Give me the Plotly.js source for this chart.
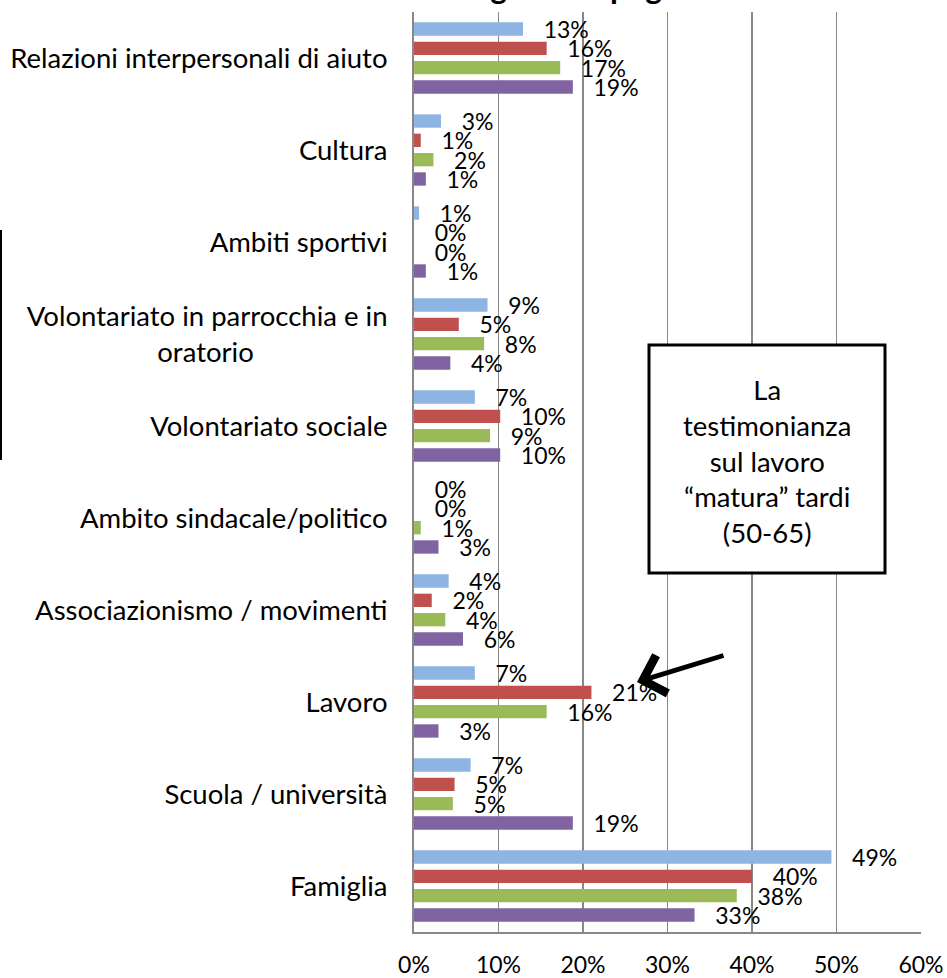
<!DOCTYPE html>
<html><head><meta charset="utf-8">
<script src="https://cdn.plot.ly/plotly-3.0.1.min.js"></script>
<style>html,body{margin:0;padding:0;background:#fff;}#chart{width:947px;height:978px;}</style>
</head><body><div id="chart"></div>
<script>
// ---- data ----
const categories = [
  "Relazioni interpersonali di aiuto",
  "Cultura",
  "Ambiti sportivi",
  "Volontariato in parrocchia e in oratorio",
  "Volontariato sociale",
  "Ambito sindacale/politico",
  "Associazionismo / movimenti",
  "Lavoro",
  "Scuola / università",
  "Famiglia"
];
const categoryLabels = [
  "Relazioni interpersonali di aiuto",
  "Cultura",
  "Ambiti sportivi",
  "Volontariato in parrocchia e in<br>oratorio",
  "Volontariato sociale",
  "Ambito sindacale/politico",
  "Associazionismo / movimenti",
  "Lavoro",
  "Scuola / università",
  "Famiglia"
];
const seriesNames = ["Serie 1", "50-65", "Serie 3", "Serie 4"];
const serieBlue   = [0.129, 0.032, 0.006, 0.087, 0.072, 0.000, 0.041, 0.072, 0.067, 0.494];
const serieRed    = [0.157, 0.008, 0.000, 0.053, 0.102, 0.000, 0.021, 0.210, 0.048, 0.400];
const serieGreen  = [0.173, 0.023, 0.000, 0.083, 0.090, 0.008, 0.037, 0.157, 0.046, 0.382];
const seriePurple = [0.188, 0.014, 0.014, 0.043, 0.102, 0.029, 0.058, 0.029, 0.188, 0.332];
const xTickVals = [0, 0.1, 0.2, 0.3, 0.4, 0.5, 0.6];
const xTickText = ["0%", "10%", "20%", "30%", "40%", "50%", "60%"];
const titleText = "Luoghi di impegno";
const boxText = "La<br>testimonianza<br>sul lavoro<br>“matura” tardi<br>(50-65)";

// ---- styles ----
const colors = ["#8EB4E3", "#C0504D", "#9BBB59", "#8064A2"];
const FONT = "Lato, 'Open Sans', sans-serif";
const W = 947, H = 978;
const M = {l: 414, r: 26, t: 12, b: 46};
const PW = W - M.l - M.r, PH = H - M.t - M.b;
const px = x => (x - M.l) / PW;
const py = y => (H - M.b - y) / PH;

// second line of the two-line label centred under the first via trailing nbsp
const tickText = categoryLabels.map(s => s.replace("<br>oratorio", "<br>oratorio" + "\u00a0".repeat(19)));

const allSeries = [serieBlue, serieRed, serieGreen, seriePurple];
const traces = allSeries.map((vals, i) => ({
  type: "bar",
  orientation: "h",
  name: seriesNames[i],
  y: categories,
  x: vals,
  marker: {color: colors[i]},
  texttemplate: "\u00a0\u00a0\u00a0%{x:.0%}",
  textposition: "outside",
  constraintext: "none",
  cliponaxis: false,
  textfont: {family: FONT, size: 23, color: "#000"},
  hoverinfo: "skip"
}));

const layout = {
  width: W, height: H,
  margin: M,
  paper_bgcolor: "#fff", plot_bgcolor: "#fff",
  showlegend: false,
  barmode: "group",
  bargap: 0.16,
  bargroupgap: 0.31,
  font: {family: FONT, color: "#000"},
  xaxis: {
    range: [0, 0.6],
    tickvals: xTickVals, ticktext: xTickText,
    showgrid: true, gridcolor: "#888888", gridwidth: 1.6,
    showline: true, linecolor: "#888888", linewidth: 2,
    zeroline: false, ticks: "",
    ticklabelstandoff: 11,
    tickfont: {family: FONT, size: 23, color: "#000"},
    fixedrange: true
  },
  yaxis: {
    type: "category",
    categoryorder: "array", categoryarray: categories,
    autorange: "reversed",
    tickvals: categories, ticktext: tickText,
    showgrid: false, showline: true, linecolor: "#888888", linewidth: 2,
    zeroline: false, ticks: "",
    ticklabelstandoff: 19,
    tickfont: {family: FONT, size: 27.5, color: "#000"},
    fixedrange: true
  },
  shapes: [
    {type: "rect", xref: "paper", yref: "paper",
     x0: px(649), x1: px(885), y0: py(573), y1: py(345),
     line: {color: "#000", width: 3}, fillcolor: "#fff", layer: "above"},
    {type: "line", xref: "paper", yref: "paper",
     x0: px(1), x1: px(1), y0: py(460), y1: py(230),
     line: {color: "#000", width: 2}}
  ],
  annotations: [
    {xref: "paper", yref: "paper", x: px(767), y: py(461),
     xanchor: "center", yanchor: "middle", showarrow: false,
     text: boxText, align: "center",
     font: {family: FONT, size: 27.5, color: "#000"}},
    {xref: "paper", yref: "paper", x: px(637), y: py(682),
     ax: 88, ay: -27, showarrow: true, text: "",
     arrowhead: 4, arrowwidth: 4.8, arrowsize: 1.6, arrowcolor: "#000"},
    {xref: "paper", yref: "paper", x: px(436), y: py(-14),
     xanchor: "left", yanchor: "middle", showarrow: false,
     text: "<b>" + titleText + "</b>",
     font: {family: FONT, size: 32, color: "#000"}}
  ]
};

Plotly.newPlot("chart", traces, layout, {displayModeBar: false, staticPlot: true});
</script>
</body></html>
